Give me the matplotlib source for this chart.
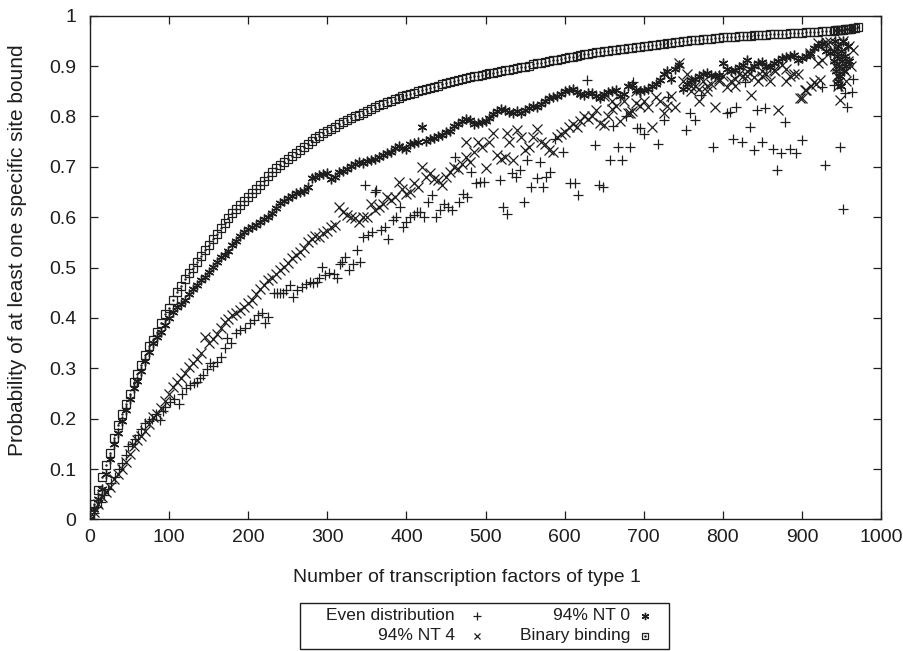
import matplotlib
matplotlib.use('Agg')
import matplotlib.pyplot as plt
from matplotlib.lines import Line2D
from matplotlib.patches import Rectangle

plt.rcParams['font.family'] = ['Liberation Sans', 'DejaVu Sans']

# regularly sampled part of the curves (number of TFs)
grid_x = list(range(0, 940, 5))

# Binary binding (squares)
binary_y = [
    0.0, 0.03, 0.058, 0.085, 0.108, 0.132, 0.162, 0.187, 0.21, 0.23,
    0.25, 0.272, 0.288, 0.307, 0.326, 0.344, 0.357, 0.373, 0.39, 0.408,
    0.42, 0.436, 0.451, 0.464, 0.477, 0.489, 0.5, 0.511, 0.523, 0.534,
    0.545, 0.556, 0.567, 0.578, 0.588, 0.598, 0.608, 0.617, 0.625, 0.633,
    0.64, 0.647, 0.655, 0.664, 0.672, 0.681, 0.69, 0.697, 0.703, 0.709,
    0.715, 0.721, 0.727, 0.733, 0.739, 0.745, 0.751, 0.757, 0.762, 0.767,
    0.771, 0.775, 0.779, 0.784, 0.788, 0.792, 0.796, 0.8, 0.803, 0.807,
    0.811, 0.815, 0.819, 0.822, 0.825, 0.828, 0.831, 0.834, 0.837, 0.84,
    0.842, 0.845, 0.847, 0.85, 0.852, 0.855, 0.857, 0.859, 0.861, 0.864,
    0.866, 0.868, 0.87, 0.872, 0.874, 0.876, 0.878, 0.88, 0.881, 0.883,
    0.884, 0.886, 0.887, 0.889, 0.89, 0.892, 0.893, 0.895, 0.896, 0.898,
    0.899, 0.901, 0.903, 0.905, 0.906, 0.908, 0.909, 0.911, 0.912, 0.914,
    0.915, 0.917, 0.918, 0.92, 0.921, 0.923, 0.924, 0.926, 0.927, 0.928,
    0.929, 0.93, 0.931, 0.932, 0.933, 0.934, 0.935, 0.936, 0.937, 0.938,
    0.939, 0.94, 0.941, 0.942, 0.943, 0.944, 0.945, 0.946, 0.947, 0.948,
    0.949, 0.95, 0.951, 0.951, 0.952, 0.953, 0.954, 0.954, 0.955, 0.956,
    0.957, 0.957, 0.958, 0.958, 0.959, 0.959, 0.96, 0.96, 0.961, 0.961,
    0.962, 0.962, 0.963, 0.963, 0.963, 0.964, 0.964, 0.965, 0.965, 0.966,
    0.966, 0.967, 0.967, 0.968, 0.968, 0.969, 0.969, 0.97,
]
binary_tail_x = [940, 942, 944, 946, 948, 950, 952, 954, 956, 958, 960, 962, 964, 967, 971]
binary_tail_y = [0.97, 0.971, 0.971, 0.971, 0.972, 0.972, 0.972, 0.973, 0.973, 0.973,
                 0.974, 0.974, 0.975, 0.976, 0.977]

# 94% NT 0 (asterisks)
nt0_y = [
    0.0, 0.02, 0.04, 0.06, 0.09, 0.12, 0.15, 0.172, 0.195, 0.217,
    0.24, 0.26, 0.275, 0.295, 0.315, 0.332, 0.35, 0.362, 0.372, 0.386,
    0.4, 0.412, 0.422, 0.428, 0.435, 0.447, 0.458, 0.466, 0.475, 0.482,
    0.492, 0.502, 0.512, 0.52, 0.525, 0.532, 0.545, 0.553, 0.562, 0.57,
    0.576, 0.58, 0.585, 0.59, 0.596, 0.6, 0.608, 0.618, 0.628, 0.633,
    0.638, 0.642, 0.647, 0.65, 0.652, 0.66, 0.678, 0.68, 0.683, 0.685,
    0.688, 0.676, 0.68, 0.69, 0.692, 0.695, 0.702, 0.706, 0.71, 0.708,
    0.712, 0.714, 0.716, 0.72, 0.724, 0.728, 0.73, 0.737, 0.742, 0.738,
    0.735, 0.745, 0.748, 0.75, 0.778, 0.752, 0.755, 0.758, 0.762, 0.764,
    0.77, 0.772, 0.78, 0.785, 0.79, 0.795, 0.792, 0.785, 0.787, 0.789,
    0.79, 0.796, 0.805, 0.81, 0.814, 0.812, 0.808, 0.806, 0.81, 0.807,
    0.812, 0.816, 0.82, 0.818, 0.825, 0.83, 0.836, 0.838, 0.84, 0.845,
    0.85, 0.852, 0.855, 0.848, 0.845, 0.842, 0.847, 0.846, 0.84, 0.836,
    0.845, 0.848, 0.85, 0.852, 0.84, 0.845, 0.86, 0.862, 0.852, 0.85,
    0.853, 0.855, 0.86, 0.865, 0.872, 0.885, 0.89, 0.875, 0.895, 0.902,
    0.855, 0.865, 0.872, 0.875, 0.88, 0.885, 0.887, 0.883, 0.88, 0.882,
    0.905, 0.895, 0.89, 0.893, 0.898, 0.902, 0.912, 0.895, 0.9, 0.905,
    0.907, 0.9, 0.898, 0.905, 0.91, 0.915, 0.918, 0.92, 0.922, 0.912,
    0.915, 0.92, 0.925, 0.935, 0.94, 0.945, 0.93, 0.925,
]
nt0_tail_x = [940, 941, 942, 943, 944, 945, 946, 947, 948, 949, 950, 951, 952, 953, 954, 956, 958, 960]
nt0_tail_y = [0.93, 0.91, 0.95, 0.89, 0.92, 0.87, 0.94, 0.9, 0.88, 0.93, 0.86, 0.91, 0.95, 0.89,
              0.92, 0.9, 0.94, 0.91]

# 94% NT 4 (crosses)
nt4_y = [
    0.0, 0.015, 0.03, 0.045, 0.055, 0.065, 0.08, 0.09, 0.1, 0.115,
    0.13, 0.145, 0.157, 0.165, 0.175, 0.19, 0.203, 0.21, 0.222, 0.235,
    0.25, 0.262, 0.272, 0.28, 0.29, 0.302, 0.31, 0.318, 0.33, 0.362,
    0.35, 0.358, 0.368, 0.38, 0.392, 0.398, 0.405, 0.41, 0.415, 0.422,
    0.43, 0.436, 0.448, 0.458, 0.465, 0.475, 0.48, 0.488, 0.495, 0.502,
    0.51, 0.518, 0.525, 0.53, 0.538, 0.55, 0.556, 0.562, 0.56, 0.568,
    0.572, 0.58, 0.585, 0.621, 0.61, 0.604, 0.6, 0.598, 0.59, 0.6,
    0.601, 0.627, 0.615, 0.62, 0.627, 0.64, 0.635, 0.64, 0.67, 0.655,
    0.645, 0.65, 0.667, 0.66, 0.7, 0.68, 0.687, 0.675, 0.674, 0.664,
    0.68, 0.69, 0.7, 0.695, 0.705, 0.72, 0.71, 0.73, 0.75, 0.74,
    0.697, 0.75, 0.767, 0.723, 0.715, 0.72, 0.75, 0.713, 0.773, 0.76,
    0.733, 0.74, 0.76, 0.775, 0.75, 0.745, 0.733, 0.73, 0.76, 0.765,
    0.77, 0.779, 0.785, 0.779, 0.79, 0.8, 0.795, 0.8, 0.812, 0.786,
    0.783, 0.8, 0.815, 0.82, 0.79, 0.83, 0.806, 0.81, 0.826, 0.82,
    0.83, 0.819, 0.779, 0.839, 0.83, 0.806, 0.82, 0.84, 0.819, 0.905,
    0.87, 0.885, 0.85, 0.86, 0.855, 0.87, 0.86, 0.865, 0.819, 0.875,
    0.88, 0.859, 0.87, 0.875, 0.885, 0.88, 0.89, 0.842, 0.879, 0.87,
    0.88, 0.885, 0.87, 0.892, 0.812, 0.902, 0.895, 0.88, 0.885, 0.885,
    0.836, 0.852, 0.922, 0.869, 0.905, 0.912, 0.942, 0.948,
]
nt4_extra_x = [475, 527, 650, 660, 683, 690, 760, 770, 780, 795, 815, 830, 850, 866, 880,
               898, 904, 912, 918, 923, 910, 920, 931,
               940, 942, 944, 946, 948, 950, 952, 954, 956, 958, 960, 962, 965]
nt4_extra_y = [0.75, 0.767, 0.84, 0.83, 0.806, 0.85, 0.86, 0.83, 0.85, 0.87, 0.86, 0.88, 0.89, 0.89, 0.87,
               0.836, 0.852, 0.86, 0.865, 0.872, 0.925, 0.945, 0.948,
               0.93, 0.9, 0.88, 0.86, 0.832, 0.92, 0.95, 0.89, 0.87, 0.91, 0.94, 0.9, 0.932]

# Even distribution (plus signs), scattered
even_x = [
    0, 5, 9, 14, 18, 23, 27, 32, 36, 41, 45, 48, 53, 57, 61, 65, 69, 74, 78, 83,
    88, 92, 95, 101, 106, 112, 116, 121, 126, 131, 135, 139, 143, 148, 152, 156, 160, 166, 170, 173,
    178, 184, 190, 196, 202, 207, 212, 217, 221, 225, 232, 236, 240, 244, 248, 253, 257, 262, 268, 273,
    278, 282, 287, 290, 293, 297, 302, 308, 312, 316, 318, 322, 327, 333, 337, 341, 345, 348, 352, 356,
    360, 362, 368, 373, 377, 383, 387, 392, 396, 400, 405, 409, 413, 417, 422, 427, 432, 438, 442, 447,
    452, 457, 461, 466, 471, 476, 482, 488, 493, 498, 518, 522, 527, 533, 538, 544, 548, 552, 558, 565,
    569, 573, 577, 582, 588, 598, 607, 613, 617, 628, 638, 643, 649, 657, 661, 668, 672, 678, 683, 687,
    691, 695, 700, 718, 725, 731, 754, 758, 765, 773, 788, 805, 809, 813, 817, 824, 828, 834, 839, 843,
    849, 853, 864, 868, 874, 879, 885, 893, 900, 925, 929, 940, 948, 952, 954, 957, 963, 965,
]
even_y = [
    0.0, 0.012, 0.025, 0.035, 0.048, 0.06, 0.072, 0.085, 0.1, 0.112, 0.128, 0.145, 0.15, 0.16, 0.168, 0.18, 0.191, 0.195, 0.2, 0.21,
    0.197, 0.215, 0.224, 0.234, 0.24, 0.23, 0.25, 0.26, 0.267, 0.27, 0.273, 0.28, 0.287, 0.298, 0.31, 0.305, 0.313, 0.323, 0.34, 0.36,
    0.35, 0.37, 0.376, 0.38, 0.389, 0.395, 0.405, 0.41, 0.389, 0.402, 0.449, 0.449, 0.449, 0.45, 0.455, 0.465, 0.442, 0.455, 0.462, 0.468,
    0.472, 0.47, 0.472, 0.48, 0.502, 0.485, 0.49, 0.488, 0.479, 0.508, 0.512, 0.52, 0.495, 0.508, 0.535, 0.512, 0.56, 0.664, 0.564, 0.57,
    0.65, 0.654, 0.575, 0.581, 0.556, 0.594, 0.6, 0.621, 0.581, 0.59, 0.601, 0.605, 0.611, 0.611, 0.6, 0.63, 0.644, 0.601, 0.615, 0.627,
    0.62, 0.614, 0.72, 0.63, 0.645, 0.64, 0.69, 0.668, 0.67, 0.67, 0.674, 0.621, 0.607, 0.687, 0.68, 0.693, 0.631, 0.713, 0.66, 0.677,
    0.71, 0.66, 0.68, 0.69, 0.755, 0.73, 0.667, 0.667, 0.644, 0.872, 0.743, 0.664, 0.66, 0.713, 0.78, 0.74, 0.713, 0.8, 0.74, 0.869,
    0.776, 0.776, 0.766, 0.746, 0.793, 0.839, 0.773, 0.806, 0.793, 0.842, 0.74, 0.806, 0.809, 0.756, 0.819, 0.75, 0.869, 0.779, 0.733, 0.812,
    0.75, 0.816, 0.736, 0.693, 0.727, 0.789, 0.736, 0.727, 0.753, 0.859, 0.703, 0.862, 0.74, 0.617, 0.846, 0.819, 0.849, 0.875,
]

x_ticks = list(range(0, 1001, 100))
y_ticks = [0, 0.1, 0.2, 0.3, 0.4, 0.5, 0.6, 0.7, 0.8, 0.9, 1]
y_tick_labels = ['0', '0.1', '0.2', '0.3', '0.4', '0.5', '0.6', '0.7', '0.8', '0.9', '1']

ink = '#1e1e1e'
fs = 14

fig = plt.figure(figsize=(9.04, 6.51), dpi=100)
ax = fig.add_axes([0.0996, 0.202, 0.875, 0.774])

even_style = dict(linestyle='none', marker='+', markersize=7, markeredgewidth=0.9, color=ink)
nt0_style = dict(linestyle='none', marker=(6, 2, 0), markersize=7, markeredgewidth=1.0, color=ink)
nt4_style = dict(linestyle='none', marker='x', markersize=6.5, markeredgewidth=0.9, color=ink)
bin_style = dict(linestyle='none', marker='s', markersize=5.5, markeredgewidth=0.9,
                 markerfacecolor='none', markeredgecolor=ink)

ax.plot(even_x, even_y, **even_style)
ax.plot(grid_x + nt0_tail_x, nt0_y + nt0_tail_y, **nt0_style)
ax.plot(grid_x + nt4_extra_x, nt4_y + nt4_extra_y, **nt4_style)
bx = grid_x + binary_tail_x
by = binary_y + binary_tail_y
ax.plot(bx, by, **bin_style)
ax.plot(bx, by, linestyle='none', marker='.', markersize=1.5, color=ink)

ax.set_xlim(0, 1000)
ax.set_ylim(0, 1)
ax.set_xticks(x_ticks)
ax.set_yticks(y_ticks)
ax.set_yticklabels(y_tick_labels)
ax.tick_params(direction='in', length=6, width=0.9, top=True, right=True,
               labelsize=fs, colors=ink)
ax.tick_params(axis='y', pad=10)
ax.tick_params(axis='x', pad=7)
for s in ax.spines.values():
    s.set_linewidth(1.0)
    s.set_color(ink)

fig.text(467 / 904, 1 - 578 / 651, 'Number of transcription factors of type 1',
         ha='center', va='center', fontsize=fs, color=ink)
fig.text(18 / 904, 1 - 250 / 651, 'Probability of at least one specific site bound',
         ha='center', va='center', rotation=90, fontsize=15, color=ink)

# gnuplot-style key below the plot
fig.add_artist(Rectangle((300 / 904, 1 - 649 / 651), 369 / 904, 46 / 651,
                         transform=fig.transFigure, fill=False, lw=1.0, edgecolor=ink))
key = [
    ('Even distribution', even_style, 455, 477, 616),
    ('94% NT 0', nt0_style, 630, 645, 616),
    ('94% NT 4', nt4_style, 455, 477, 635.5),
    ('Binary binding', bin_style, 630, 645, 635.5),
]
for label, style, tx, mx, yy in key:
    fig.text(tx / 904, 1 - yy / 651, label, ha='right', va='center', fontsize=12.5, color=ink)
    st = dict(style)
    st['markersize'] = st['markersize'] * 0.75
    fig.add_artist(Line2D([mx / 904], [1 - yy / 651], transform=fig.transFigure, **st))
fig.add_artist(Line2D([645 / 904], [1 - 635.5 / 651], transform=fig.transFigure,
                      linestyle='none', marker='.', markersize=1.5, color=ink))

fig.savefig('out.png', dpi=100)
